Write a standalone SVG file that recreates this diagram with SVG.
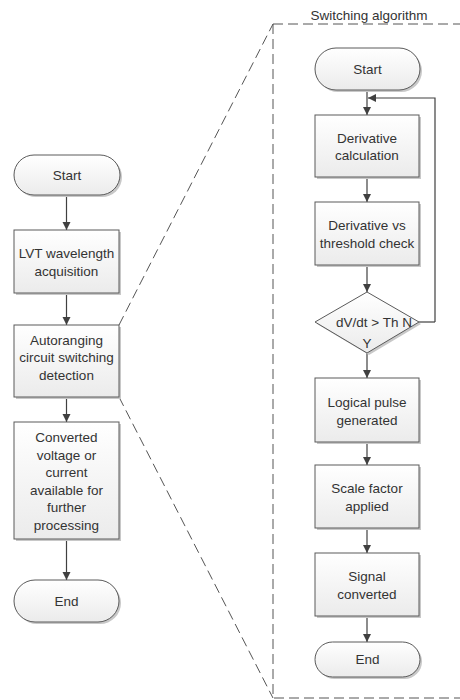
<svg xmlns="http://www.w3.org/2000/svg" width="460" height="700" viewBox="0 0 460 700">
<defs>
<linearGradient id="g" x1="0" y1="0" x2="0" y2="1"><stop offset="0" stop-color="#ffffff"/><stop offset="1" stop-color="#ebebeb"/></linearGradient>
<marker id="ah" markerWidth="10" markerHeight="10" refX="9" refY="5" orient="auto" markerUnits="userSpaceOnUse"><path d="M1,1 L9,5 L1,9 Z" fill="#404040"/></marker>
</defs>
<style>
.n{fill:url(#g);stroke:#5a5a5a;stroke-width:1}
.sh{fill:#c8c8c8;stroke:none}
.t{font-family:"Liberation Sans",Arial,sans-serif;font-size:13.5px;fill:#333;text-anchor:middle}
.c{fill:none;stroke:#404040;stroke-width:1.2;marker-end:url(#ah)}
.l{fill:none;stroke:#404040;stroke-width:1.2}
.d{fill:none;stroke:#555;stroke-width:1;stroke-dasharray:10 5}
</style>
<rect width="460" height="700" fill="#fff"/>
<g id="frame">
<path class="d" d="M273,24 L273,698 L460,698"/>
<path class="d" d="M273,24 L460,24"/>
<path class="d" d="M119,325 L273,24"/>
<path class="d" d="M119,397 L273,698"/>
<text class="t" x="369" y="20" style="fill:#333">Switching algorithm</text>
</g>
<g id="connectors">
<path class="c" d="M66.5,195 V230"/>
<path class="c" d="M66.5,293 V325"/>
<path class="c" d="M66.5,397 V422"/>
<path class="c" d="M66.5,539 V580"/>
<path class="c" d="M367,90 V115"/>
<path class="c" d="M435,322 V98 H368"/>
<path class="l" d="M419,322 H435"/>
<path class="c" d="M367,177 V202"/>
<path class="c" d="M367,265 V292"/>
<path class="c" d="M367,353 V378"/>
<path class="c" d="M367,442 V465"/>
<path class="c" d="M367,528 V553"/>
<path class="c" d="M367,616 V642"/>
</g>
<g id="l_start">
<rect class="sh" x="16" y="157" width="106" height="40" rx="20"/>
<rect class="n" x="14" y="155" width="106" height="40" rx="20"/>
<text class="t" x="67" y="180">Start</text>
</g>
<g id="l_lvt">
<rect class="sh" x="16" y="232" width="105" height="63"/>
<rect class="n" x="14" y="230" width="105" height="63"/>
<text class="t" x="66.5" y="258">LVT wavelength</text>
<text class="t" x="66.5" y="276">acquisition</text>
</g>
<g id="l_auto">
<rect class="sh" x="16" y="327" width="105" height="72"/>
<rect class="n" x="14" y="325" width="105" height="72"/>
<text class="t" x="66.5" y="345">Autoranging</text>
<text class="t" x="66.5" y="362">circuit switching</text>
<text class="t" x="66.5" y="380">detection</text>
</g>
<g id="l_conv">
<rect class="sh" x="16" y="424" width="105" height="117"/>
<rect class="n" x="14" y="422" width="105" height="117"/>
<text class="t" x="66.5" y="442">Converted</text>
<text class="t" x="66.5" y="460">voltage or</text>
<text class="t" x="66.5" y="477">current</text>
<text class="t" x="66.5" y="495">available for</text>
<text class="t" x="66.5" y="512">further</text>
<text class="t" x="66.5" y="530">processing</text>
</g>
<g id="l_end">
<rect class="sh" x="16" y="582" width="105" height="42" rx="21"/>
<rect class="n" x="14" y="580" width="105" height="42" rx="21"/>
<text class="t" x="66.5" y="606">End</text>
</g>
<g id="r_start">
<rect class="sh" x="317" y="50" width="105" height="42" rx="21"/>
<rect class="n" x="315" y="48" width="105" height="42" rx="21"/>
<text class="t" x="367.5" y="74">Start</text>
</g>
<g id="r_deriv">
<rect class="sh" x="317" y="117" width="104" height="62"/>
<rect class="n" x="315" y="115" width="104" height="62"/>
<text class="t" x="367" y="143">Derivative</text>
<text class="t" x="367" y="160">calculation</text>
</g>
<g id="r_check">
<rect class="sh" x="317" y="204" width="104" height="63"/>
<rect class="n" x="315" y="202" width="104" height="63"/>
<text class="t" x="367" y="230">Derivative vs</text>
<text class="t" x="367" y="248">threshold check</text>
</g>
<g id="r_dec">
<path class="sh" d="M369,294 L421,324 L369,355 L317,324 Z"/>
<path class="n" d="M367,292 L419,322 L367,353 L315,322 Z"/>
<text class="t" x="374" y="327">dV/dt &gt; Th N</text>
<text class="t" x="367" y="348">Y</text>
</g>
<g id="r_pulse">
<rect class="sh" x="317" y="380" width="104" height="64"/>
<rect class="n" x="315" y="378" width="104" height="64"/>
<text class="t" x="367" y="407">Logical pulse</text>
<text class="t" x="367" y="425">generated</text>
</g>
<g id="r_scale">
<rect class="sh" x="317" y="467" width="104" height="63"/>
<rect class="n" x="315" y="465" width="104" height="63"/>
<text class="t" x="367" y="493">Scale factor</text>
<text class="t" x="367" y="511">applied</text>
</g>
<g id="r_signal">
<rect class="sh" x="317" y="555" width="104" height="63"/>
<rect class="n" x="315" y="553" width="104" height="63"/>
<text class="t" x="367" y="581">Signal</text>
<text class="t" x="367" y="599">converted</text>
</g>
<g id="r_end">
<rect class="sh" x="317" y="644" width="105" height="35" rx="17.5"/>
<rect class="n" x="315" y="642" width="105" height="35" rx="17.5"/>
<text class="t" x="367.5" y="664">End</text>
</g>
</svg>
